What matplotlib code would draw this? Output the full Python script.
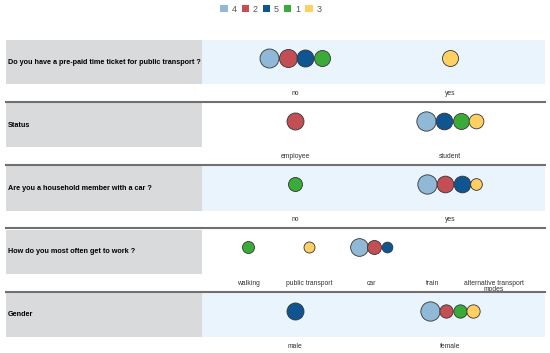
import matplotlib.pyplot as plt
from matplotlib.lines import Line2D
from matplotlib.patches import Patch

plt.rcParams['font.family'] = ['Liberation Sans', 'DejaVu Sans']

# clusters, in legend order
clusters = ["4", "2", "5", "1", "3"]
cluster_colors = ["#8fb9d6", "#c34f55", "#0f5592", "#3aab38", "#fecf63"]

# one entry per question: category labels, category of each cluster, circle size (px)
questions = [
    "Do you have a pre-paid time ticket for public transport ?",
    "Status",
    "Are you a household member with a car ?",
    "How do you most often get to work ?",
    "Gender",
]

ticket_cats = ["no", "yes"]
ticket_member = [0, 0, 0, 0, 1]
ticket_size = [19, 18, 17, 16, 16]

status_cats = ["employee", "student"]
status_member = [1, 0, 1, 1, 1]
status_size = [19.3, 17, 16.7, 16, 14.7]

car_cats = ["no", "yes"]
car_member = [1, 1, 1, 0, 1]
car_size = [19.3, 16.7, 16.7, 14, 11.7]

work_cats = ["walking", "public transport", "car", "train",
             "alternative transport\nmodes"]
work_member = [2, 2, 2, 0, 1]
work_size = [17.7, 14, 10.7, 12, 11]

gender_cats = ["male", "female"]
gender_member = [1, 1, 0, 1, 1]
gender_size = [19.3, 13.3, 17, 13.3, 13.3]

rows = [
    (ticket_cats, ticket_member, ticket_size),
    (status_cats, status_member, status_size),
    (car_cats, car_member, car_size),
    (work_cats, work_member, work_size),
    (gender_cats, gender_member, gender_size),
]

W, H = 550, 353
fig = plt.figure(figsize=(W / 100, H / 100), dpi=100)


def px_axes(x, y, w, h):
    """Add axes given a pixel box measured from the top-left corner."""
    return fig.add_axes([x / W, (H - y - h) / H, w / W, h / H])


PANEL_X, PANEL_W = 202, 343
BOX_H = 44
PITCH = 63.25
xlims = {2: (-0.6, 1.613), 5: (-0.748, 4.83)}

for i, (question, (cats, member, size)) in enumerate(zip(questions, rows)):
    top = 40 + PITCH * i

    lab = px_axes(6, top, PANEL_X - 6, BOX_H)
    lab.set_facecolor("#d9dadb")
    lab.set_xticks([])
    lab.set_yticks([])
    for s in lab.spines.values():
        s.set_visible(False)
    lab.text(2 / (PANEL_X - 6), 0.5, question, fontsize=5.2, fontweight="bold",
             va="center", ha="left", transform=lab.transAxes)

    ax = px_axes(PANEL_X, top, PANEL_W, BOX_H)
    ax.set_facecolor("#eaf4fd" if i % 2 == 0 else "white")
    ax.set_xlim(*xlims[len(cats)])
    ax.set_ylim(0, 1)
    ax.set_xticks(range(len(cats)))
    ax.set_xticklabels(cats, fontsize=4.9, color="#333333", linespacing=0.95)
    ax.tick_params(axis="x", length=0, pad=4.2)
    ax.set_yticks([])
    for s in ax.spines.values():
        s.set_visible(False)

    unit_per_px = (ax.get_xlim()[1] - ax.get_xlim()[0]) / PANEL_W
    for j in range(len(cats)):
        idx = [k for k in range(len(clusters)) if member[k] == j]
        total = sum(size[k] for k in idx)
        x = j - total / 2 * unit_per_px
        for k in idx:
            d = size[k]
            ax.scatter(x + d / 2 * unit_per_px, 0.6, s=(d * 0.72) ** 2,
                       color=cluster_colors[k], edgecolor="#333333",
                       linewidth=0.6, zorder=3, clip_on=False)
            x += d * unit_per_px

    if i > 0:
        yl = 1 - (top - 1.5) / H
        fig.add_artist(Line2D([6 / W, 545 / W], [yl, yl], color="#707070",
                              linewidth=1.5, transform=fig.transFigure))

handles = [Patch(facecolor=c, edgecolor="none", label=n)
           for n, c in zip(clusters, cluster_colors)]
fig.legend(handles=handles, loc="center", bbox_to_anchor=(271 / W, 1 - 9 / H),
           ncol=5, frameon=False, fontsize=6.5, handlelength=0.8,
           handleheight=0.8, handletextpad=0.45, columnspacing=0.55,
           labelcolor="#555555", borderpad=0)

fig.savefig("out.png", dpi=100)
